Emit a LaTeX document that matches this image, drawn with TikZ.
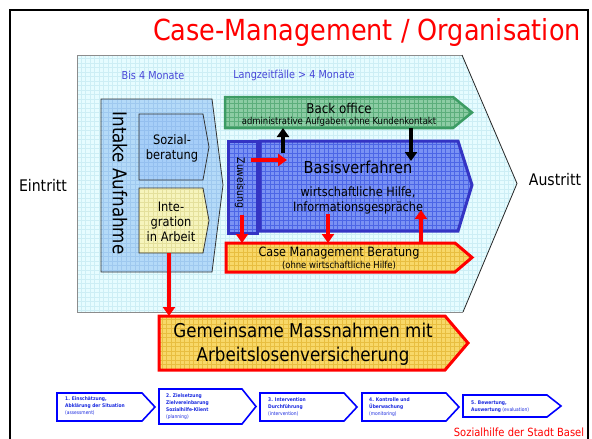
\documentclass[tikz,border=0pt]{standalone}
\usepackage{fontspec}
\setmainfont{DejaVu Sans}[FakeStretch=0.88]
\usetikzlibrary{arrows.meta}
\definecolor{outerfill}{HTML}{E6FCFF}
\definecolor{outergrid}{HTML}{CDEEF5}
\definecolor{intakefill}{HTML}{B4DAF8}
\definecolor{intakegrid}{HTML}{9FC9EF}
\definecolor{sozfill}{HTML}{A6CEF8}
\definecolor{sozgrid}{HTML}{94BFEF}
\definecolor{intfill}{HTML}{F6F4BC}
\definecolor{intgrid}{HTML}{E4E09C}
\definecolor{bofill}{HTML}{8CCCA4}
\definecolor{bogrid}{HTML}{5CAE7C}
\definecolor{boline}{HTML}{3C9C64}
\definecolor{bvfill}{HTML}{7A92F4}
\definecolor{bvgrid}{HTML}{4C66E6}
\definecolor{bvline}{HTML}{3434C4}
\definecolor{yelfill}{HTML}{F8D868}
\definecolor{yelgrid}{HTML}{E8BE40}
\definecolor{labblue}{HTML}{4848D8}
\definecolor{stepblue}{HTML}{1A2AE0}
\begin{document}
\begin{tikzpicture}[x=1pt,y=-1pt,
  gridded/.style 2 args={fill=#1, path picture={\draw[#2,line width=0.35pt,step=4.5pt]
     ([shift={(-10pt,-10pt)}]path picture bounding box.south west) grid
     ([shift={(10pt,10pt)}]path picture bounding box.north east);}},
  lbl/.style={inner sep=0pt, align=center, text=black},
  redarrow/.style={draw=red, line width=3.2pt, -{Triangle[width=12pt,length=9pt]}},
  blackarrow/.style={draw=black, line width=3.2pt, -{Triangle[width=12pt,length=9pt]}},
  stepbox/.style={draw=blue, line width=1.6pt, fill=white, line join=miter},
  steptext/.style={inner sep=0pt, anchor=west, align=left, text=stepblue,
     font=\fontsize{5}{7}\selectfont},
]
\useasboundingbox (0,0) rectangle (592,439);
\fill[white] (0,0) rectangle (592,439);
\draw[line width=2.5pt] (10,442) -- (10,10) -- (588,10) -- (588,442);

% title
\node[lbl, text=red, anchor=base east, font=\fontsize{29}{32}\selectfont] (title) at (581,40) {Case-Management / Organisation};

% outer pentagon
\path[gridded={outerfill}{outergrid}] (77,55) -- (462,55) -- (517,183.5) -- (463,312) -- (77,312) -- cycle;
\draw[black!45, line width=0.8pt] (462,55) -- (77,55) -- (77,312) -- (463,312);
\draw[black!85, line width=0.8pt] (462,55) -- (517,183.5) -- (463,312);
\node[lbl, text=labblue, font=\fontsize{11}{13}\selectfont] (bis) at (153,75) {Bis 4 Monate};
\node[lbl, text=labblue, font=\fontsize{11}{13}\selectfont] (lang) at (294,75) {Langzeitfälle > 4 Monate};

\node[lbl, font=\fontsize{16}{18}\selectfont] (ein) at (43,185) {Eintritt};
\node[lbl, font=\fontsize{16}{18}\selectfont] (aus) at (555,180) {Austritt};

% intake
\path[gridded={intakefill}{intakegrid}, draw=black!80, line width=0.8pt]
  (101,99) -- (212,99) -- (223,185) -- (212,272) -- (101,272) -- cycle;
\node[lbl, rotate=-90, font=\fontsize{19}{21}\selectfont] (intake) at (120,183) {Intake Aufnahme};

\path[gridded={sozfill}{sozgrid}, draw=black!80, line width=0.8pt]
  (139,114) -- (203,114) -- (209,147) -- (203,180) -- (139,180) -- cycle;
\node[lbl, font=\fontsize{13}{15}\selectfont] (soz) at (172,148) {Sozial-\\beratung};

\path[gridded={intfill}{intgrid}, draw=black!80, line width=0.8pt]
  (139,188) -- (203,188) -- (209,220.5) -- (203,253) -- (139,253) -- cycle;
\node[lbl, font=\fontsize{13}{15}\selectfont] (integ) at (171,222) {Inte-\\gration\\in Arbeit};

% back office
\path[gridded={bofill}{bogrid}, draw=boline, line width=2.5pt]
  (225,97) -- (453,97) -- (472,112.5) -- (453,128) -- (225,128) -- cycle;
\node[lbl, font=\fontsize{13.5}{15}\selectfont] (bo) at (339,108) {Back office};
\node[lbl, font=\fontsize{9.6}{11}\selectfont] (bosub) at (339,122) {administrative Aufgaben ohne Kundenkontakt};

% Zuweisung
\path[gridded={bvfill}{bvgrid}, draw=bvline, line width=3pt]
  (228,141) rectangle (257,233);
\node[lbl, rotate=-90, font=\fontsize{10.5}{12}\selectfont] (zuw) at (240,183) {Zuweisung};

% Basisverfahren
\path[gridded={bvfill}{bvgrid}, draw=bvline, line width=3pt]
  (260,141) -- (458,141) -- (472,185) -- (458,231) -- (260,231) -- cycle;
\node[lbl, font=\fontsize{16.5}{19}\selectfont] (basis) at (358,167) {Basisverfahren};
\node[lbl, font=\fontsize{12.8}{15}\selectfont] (basissub) at (358,200.5) {wirtschaftliche Hilfe,\\Informationsgespräche};

% Case Management Beratung
\path[gridded={yelfill}{yelgrid}, draw=red, line width=3pt]
  (226,243) -- (455,243) -- (472,257.5) -- (455,272) -- (226,272) -- cycle;
\node[lbl, font=\fontsize{12.8}{15}\selectfont] (cmb) at (339,253) {Case Management Beratung};
\node[lbl, font=\fontsize{9.6}{11}\selectfont] (cmbsub) at (339,265) {(ohne wirtschaftliche Hilfe)};

% Gemeinsame Massnahmen
\path[gridded={yelfill}{yelgrid}, draw=red, line width=3pt]
  (159,316) -- (445,316) -- (468,343) -- (445,370) -- (159,370) -- cycle;
\node[lbl, font=\fontsize{19}{24}\selectfont] (gem) at (303,344) {Gemeinsame Massnahmen mit\\Arbeitslosenversicherung};

% connector end points
\coordinate (intOut) at (169,253);
\coordinate (gemIn) at (169,316);
\coordinate (zuwR) at (251,160);
\coordinate (basL) at (287,160);
\coordinate (zuwB) at (242,215);
\coordinate (cmbA) at (242,243);
\coordinate (basB) at (328,214);
\coordinate (cmbB) at (328,243);
\coordinate (cmbC) at (421,243);
\coordinate (basC) at (421,210);
\coordinate (basT) at (283,153);
\coordinate (boB1) at (283,128);
\coordinate (boB2) at (411,128);
\coordinate (basT2) at (411,161);

\draw[redarrow] (intOut) -- (gemIn);
\draw[redarrow] (zuwR) -- (basL);
\draw[redarrow] (zuwB) -- (cmbA);
\draw[redarrow] (basB) -- (cmbB);
\draw[redarrow] (cmbC) -- (basC);
\draw[blackarrow] (basT) -- (boB1);
\draw[blackarrow] (boB2) -- (basT2);

% steps
\path[stepbox] (57,393) -- (142,393) -- (155,407) -- (142,421) -- (57,421) -- cycle;
\node[steptext] (s1) at (65,406) {\textbf{1. Einschätzung,}\\\textbf{Abklärung der Situation}\\(assessment)};
\path[stepbox] (159,389) -- (242,389) -- (256,406.5) -- (242,424) -- (159,424) -- cycle;
\node[steptext] (s2) at (166,406.5) {\textbf{2. Zielsetzung}\\\textbf{Zielvereinbarung}\\\textbf{Sozialhilfe-Klient}\\(planning)};
\path[stepbox] (260,393) -- (344,393) -- (357,407) -- (344,421) -- (260,421) -- cycle;
\node[steptext] (s3) at (268,407) {\textbf{3. Intervention}\\\textbf{Durchführung}\\(intervention)};
\path[stepbox] (362,393) -- (446,393) -- (459,407) -- (446,421) -- (362,421) -- cycle;
\node[steptext] (s4) at (369,407) {\textbf{4. Kontrolle und}\\\textbf{Überwachung}\\(monitoring)};
\path[stepbox] (463,395) -- (547,395) -- (561,406) -- (547,417) -- (463,417) -- cycle;
\node[steptext] (s5) at (471,406.5) {\textbf{5. Bewertung,}\\\textbf{Auswertung} (evaluation)};

\node[lbl, text=red, font=\fontsize{11.3}{13}\selectfont] (basel) at (519,432) {Sozialhilfe der Stadt Basel};
\end{tikzpicture}
\end{document}
